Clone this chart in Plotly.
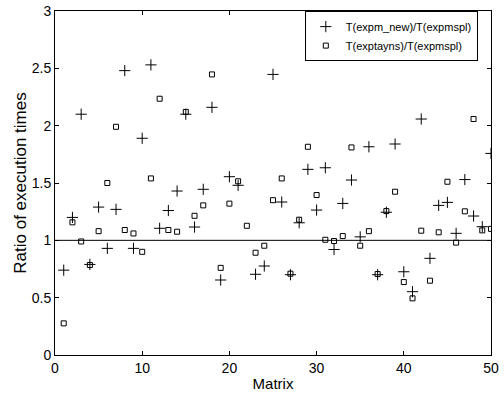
import plotly.graph_objects as go

matrix = list(range(1, 51))
expm_new = [0.74, 1.20, 2.10, 0.79, 1.29, 0.93, 1.27, 2.48, 0.93, 1.89,
            2.53, 1.105, 1.26, 1.43, 2.10, 1.116, 1.445, 2.16, 0.654, 1.555,
            1.48, None, 0.704, 0.776, 2.447, 1.334, 0.70, 1.153, 1.619, 1.264,
            1.633, 0.92, 1.322, 1.526, 1.03, 1.816, 0.70, 1.245, 1.84, 0.726,
            0.552, 2.058, 0.843, 1.305, 1.331, 1.061, 1.53, 1.212, 1.119, 1.758]
exptayns = [0.276, 1.157, 0.99, 0.785, 1.08, 1.50, 1.99, 1.09, 1.06, 0.90,
            1.54, 2.235, 1.09, 1.075, 2.12, 1.214, 1.305, 2.447, 0.76, 1.32,
            1.515, 1.127, 0.892, 0.953, 1.35, 1.54, 0.709, 1.18, 1.816, 1.395,
            1.005, 0.994, 1.037, 1.81, 0.953, 1.08, 0.706, 1.255, 1.424, 0.636,
            0.494, 1.084, 0.648, 1.07, 1.511, 0.98, 1.253, 2.058, 1.087, 1.10]
ref_level = [1, 1]
ref_x = [0, 50]
x_ticks = [0, 10, 20, 30, 40, 50]
y_ticks = [0, 0.5, 1, 1.5, 2, 2.5, 3]
y_tick_labels = ["0", "0.5", "1", "1.5", "2", "2.5", "3"]

FONT = "Liberation Sans"

fig = go.Figure()
fig.add_trace(go.Scatter(x=ref_x, y=ref_level, mode="lines",
                         line=dict(color="black", width=1), showlegend=False,
                         hoverinfo="skip"))
fig.add_trace(go.Scatter(x=matrix, y=expm_new, mode="markers",
                         name="T(expm_new)/T(expmspl)",
                         marker=dict(symbol="cross-thin", size=8, color="black",
                                     line=dict(color="black", width=1))))
fig.add_trace(go.Scatter(x=matrix, y=exptayns, mode="markers",
                         name="T(exptayns)/T(expmspl)",
                         marker=dict(symbol="square-open", size=5, color="black",
                                     line=dict(color="black", width=1))))

axis_common = dict(showgrid=False, zeroline=False, showline=True, linecolor="black",
                   linewidth=1, mirror="ticks", ticks="inside", ticklen=4,
                   tickcolor="black", tickwidth=1, ticklabeloverflow="allow",
                   automargin=False,
                   tickfont=dict(family=FONT, size=14, color="black"))

fig.update_layout(
    width=504, height=396, autosize=False,
    margin=dict(l=55, r=13, t=11, b=41),
    plot_bgcolor="white", paper_bgcolor="white",
    font=dict(family=FONT, size=14, color="black"),
    xaxis=dict(range=[0, 50], tickvals=x_ticks,
               title=dict(text="Matrix", standoff=3,
                          font=dict(family=FONT, size=15)), **axis_common),
    yaxis=dict(range=[0, 3], tickvals=y_ticks, ticktext=y_tick_labels,
               title=dict(text="Ratio of execution times", standoff=0,
                          font=dict(family=FONT, size=17)), **axis_common),
    legend=dict(x=0.573, y=0.927, xanchor="left", yanchor="middle",
                bgcolor="white", bordercolor="black", borderwidth=1,
                font=dict(family=FONT, size=11), itemwidth=30, tracegroupgap=0),
    showlegend=True,
)

fig.write_html("out.html",
               config={"displayModeBar": False, "responsive": False},
               post_script="document.body.style.margin='0';")
